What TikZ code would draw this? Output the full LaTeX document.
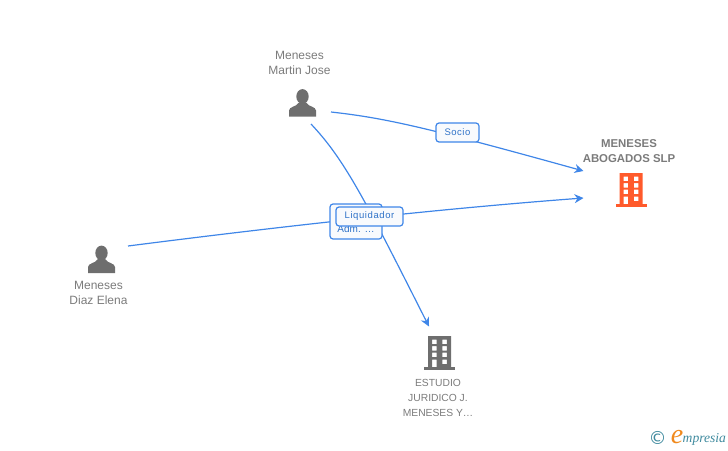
\documentclass[tikz,border=0pt]{standalone}
\usepackage{fontspec}
\setmainfont{Liberation Sans}
\newfontfamily\logofont{Liberation Serif}
\newfontfamily\copyfont{DejaVu Sans}
\usepackage{tikz}
\usetikzlibrary{arrows.meta}
\definecolor{namegrey}{HTML}{7B7B7B}
\definecolor{icongrey}{HTML}{6E6E6E}
\definecolor{linkblue}{HTML}{3F86E8}
\definecolor{tagblue}{HTML}{2F72C8}
\definecolor{tagfill}{HTML}{F8FAFD}
\definecolor{mainorange}{HTML}{FF5A2B}
\definecolor{logoteal}{HTML}{3F8A9E}
\definecolor{logoorange}{HTML}{F08A1E}
\tikzset{
  namelabel/.style={text=namegrey,font=\fontsize{12}{15}\selectfont,align=center,inner sep=0pt},
  mainlabel/.style={namelabel,font=\fontsize{11.4}{15}\selectfont\bfseries},
  iconbox/.style={minimum width=28pt,minimum height=28pt,inner sep=0pt},
  tagbox/.style={draw=linkblue,line width=1.2pt,fill=tagfill,rounded corners=3pt,text=tagblue,
    font=\fontsize{9.5}{11}\selectfont,inner sep=0pt},
  linkline/.style={draw=linkblue,line width=1.2pt,-{Stealth[length=9pt,width=9pt]}},
  person/.pic={
    \fill[icongrey] (0,-6) ellipse (6.2 and 7.4);
    \fill[icongrey] (-13.5,14) -- (-13.5,8) .. controls (-13.5,4) and (-6,4.5) .. (-3.5,0)
      -- (3.5,0) .. controls (6,4.5) and (13.5,4) .. (13.5,8) -- (13.5,14) -- cycle;
  },
  building/.pic={
    \fill[even odd rule,pic actions] (-11.5,-17) rectangle (11.5,15)
      (-7.3,-13.3) rectangle (-2.8,-8.8) (2.8,-13.3) rectangle (7.3,-8.8)
      (-7.3,-7) rectangle (-2.8,-2.5) (2.8,-7) rectangle (7.3,-2.5)
      (-7.3,-0.5) rectangle (-2.8,4) (2.8,-0.5) rectangle (7.3,4)
      (-7.3,6.5) rectangle (-2.8,15) (2.8,6.5) rectangle (7.3,11);
    \fill[pic actions] (-15.5,13.5) rectangle (15.5,17);
  },
}
\begin{document}
\begin{tikzpicture}[x=1pt,y=-1pt]
\useasboundingbox (0,0) rectangle (728,450);
% people and companies
\node[iconbox] (martin) at (302.5,102.5) {};
\pic at (302.5,102.5) {person};
\node[namelabel,anchor=south] (martinname) at (299.5,75) {Meneses\\Martin Jose};
\node[iconbox] (elena) at (101.5,259) {};
\pic at (101.5,259) {person};
\node[namelabel,anchor=north] (elenaname) at (98.5,281) {Meneses\\Diaz Elena};
\node[iconbox] (main) at (631,190) {};
\pic[fill=mainorange] at (631,190) {building};
\node[mainlabel,anchor=south] (mainname) at (629,163) {MENESES\\ABOGADOS SLP};
\node[iconbox] (estudio) at (439.5,353) {};
\pic[fill=icongrey] at (439.5,353) {building};
\node[namelabel,anchor=north,font=\fontsize{10.3}{15}\selectfont] (estudioname) at (438,379)
  {ESTUDIO\\JURIDICO J.\\MENESES Y\dots};
% free ends of the links
\coordinate (martinout) at (331,112);
\coordinate (martindown) at (311,124);
\coordinate (elenaout) at (128,246);
\coordinate (mainup) at (583.5,171);
\coordinate (maindown) at (583.5,198);
\coordinate (estudioin) at (429,326.5);
% links
\draw[linkline] (martinout) .. controls (385,118) and (425,127) .. (mainup);
\draw[linkline] (elenaout) .. controls (300,224) and (450,208) .. (maindown);
\draw[linkline] (martindown) .. controls (345,160) and (365,200) .. (estudioin);
% tags
\node[tagbox,minimum width=43pt,minimum height=19pt] (socio) at (457.5,132.5) {S\kern.5pt o\kern.5pt c\kern.5pt i\kern.5pt o};
\node[tagbox,minimum width=52pt,minimum height=35pt] (adm) at (356,221.5) {};
\node[text=tagblue,font=\fontsize{10}{11}\selectfont,inner sep=0pt] (admtext) at (356,229) {Adm. \dots};
\node[tagbox,minimum width=67pt,minimum height=19pt] (liquidador) at (369.5,216.5) {\raisebox{-.6pt}{L\kern.6pt i\kern.6pt q\kern.6pt u\kern.6pt i\kern.6pt d\kern.6pt a\kern.6pt d\kern.6pt o\kern.6pt r}};
% logo
\node[text=logoteal,font=\copyfont\fontsize{18}{18}\selectfont,inner sep=0pt] (logoc) at (657.5,438) {©};
\node[text=logoorange,font=\logofont\itshape\fontsize{28}{28}\selectfont,inner sep=0pt] (logoe) at (677,437) {e};
\node[text=logoteal,font=\logofont\itshape\fontsize{13.6}{14}\selectfont,inner sep=0pt,anchor=west] (logotext) at (682.5,439) {mpresia};
\end{tikzpicture}
\end{document}
